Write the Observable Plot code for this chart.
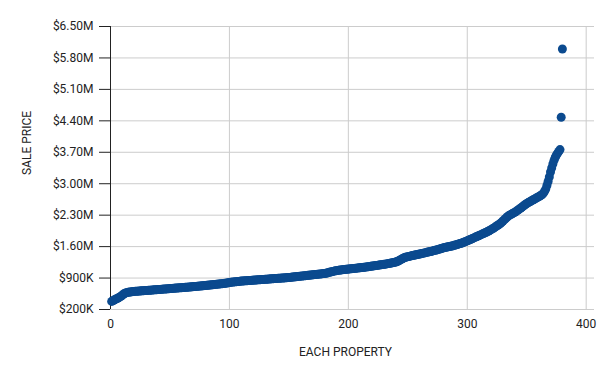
<!DOCTYPE html>
<html><head><meta charset="utf-8">
<script src="https://cdn.jsdelivr.net/npm/d3@7"></script>
<script src="https://cdn.jsdelivr.net/npm/@observablehq/plot@0.6"></script>
<style>html,body{margin:0;padding:0;background:#fff} svg{display:block}</style>
</head><body><div id="chart"></div>
<script>
// Sorted sale prices (thousands of dollars), one per property
const salePricesK = [
  380, 395, 410, 425, 440, 450, 465, 480, 500, 520,
  545, 560, 570, 578, 584, 588, 592, 596, 599, 602,
  604, 607, 609, 611, 613, 615, 617, 619, 621, 623,
  625, 627, 629, 631, 633, 636, 638, 640, 642, 644,
  646, 648, 651, 653, 655, 657, 659, 661, 663, 665,
  667, 669, 671, 673, 676, 678, 680, 682, 684, 686,
  688, 691, 693, 695, 698, 700, 702, 705, 707, 710,
  712, 714, 717, 719, 722, 724, 727, 729, 732, 735,
  738, 740, 743, 746, 749, 752, 755, 758, 761, 764,
  767, 770, 773, 776, 779, 782, 786, 790, 795, 800,
  804, 808, 811, 814, 817, 820, 823, 826, 829, 832,
  834, 836, 838, 840, 842, 844, 846, 848, 850, 852,
  854, 856, 858, 860, 862, 864, 866, 868, 870, 872,
  874, 876, 878, 880, 882, 884, 886, 888, 890, 892,
  894, 896, 898, 900, 902, 904, 906, 908, 910, 912,
  915, 918, 921, 924, 927, 930, 933, 936, 939, 942,
  945, 948, 951, 954, 957, 960, 963, 966, 969, 972,
  975, 978, 981, 984, 987, 990, 993, 996, 999, 1002,
  1005, 1012, 1020, 1028, 1035, 1042, 1048, 1054, 1060, 1065,
  1070, 1074, 1078, 1082, 1085, 1088, 1091, 1094, 1097, 1100,
  1103, 1106, 1109, 1112, 1115, 1118, 1121, 1124, 1127, 1130,
  1133, 1136, 1140, 1143, 1147, 1150, 1154, 1158, 1162, 1166,
  1170, 1174, 1178, 1182, 1186, 1190, 1194, 1198, 1202, 1206,
  1210, 1215, 1220, 1225, 1230, 1235, 1240, 1245, 1250, 1258,
  1268, 1280, 1295, 1310, 1325, 1340, 1352, 1362, 1370, 1376,
  1382, 1388, 1394, 1400, 1406, 1412, 1418, 1424, 1430, 1436,
  1442, 1448, 1454, 1460, 1466, 1472, 1478, 1484, 1490, 1497,
  1504, 1511, 1518, 1525, 1532, 1540, 1548, 1556, 1564, 1572,
  1578, 1584, 1590, 1596, 1602, 1608, 1614, 1620, 1628, 1636,
  1644, 1652, 1660, 1668, 1676, 1686, 1696, 1706, 1716, 1728,
  1740, 1752, 1764, 1776, 1788, 1800, 1812, 1824, 1836, 1848,
  1860, 1872, 1884, 1896, 1908, 1920, 1934, 1948, 1962, 1978,
  1994, 2010, 2028, 2046, 2064, 2082, 2100, 2120, 2145, 2170,
  2195, 2220, 2245, 2270, 2290, 2305, 2320, 2335, 2350, 2365,
  2380, 2400, 2420, 2440, 2460, 2480, 2500, 2520, 2540, 2560,
  2575, 2590, 2605, 2620, 2635, 2650, 2665, 2680, 2695, 2710,
  2725, 2740, 2760, 2790, 2830, 2880, 2960, 3050, 3150, 3260,
  3350, 3440, 3520, 3590, 3640, 3680, 3720, 3760, 4480, 6000
];
const yTicks = [200000, 900000, 1600000, 2300000, 3000000, 3700000, 4400000, 5100000, 5800000, 6500000];
const xTicks = [0, 100, 200, 300, 400];
const xTitle = "EACH PROPERTY";
const yTitle = "SALE PRICE";

const data = salePricesK.map((v, i) => ({index: i + 1, price: v * 1000}));
const fmt = v => v < 1e6 ? `$${v / 1000}K` : `$${(v / 1e6).toFixed(2)}M`;

const chart = Plot.plot({
  width: 612, height: 379,
  marginLeft: 110, marginRight: 18, marginTop: 26, marginBottom: 70,
  style: {fontFamily: "Roboto, sans-serif", fontSize: "12px", color: "#222", background: "#fff"},
  x: {domain: [0, 407]},
  y: {domain: [200000, 6500000]},
  marks: [
    Plot.gridY(yTicks, {stroke: "#cccccc", strokeOpacity: 1}),
    Plot.gridX(xTicks.filter(d => d > 0), {stroke: "#cccccc", strokeOpacity: 1}),
    Plot.axisY(yTicks, {tickSize: 11, tickPadding: 6, tickFormat: fmt, label: null}),
    Plot.axisX(xTicks, {tickSize: 0, tickPadding: 10, label: null}),
    Plot.ruleX([0], {stroke: "#222"}),
    Plot.dot(data, {x: "index", y: "price", r: 4.5, fill: "#0b4a8f", stroke: null}),
    Plot.text([xTitle], {frameAnchor: "bottom", dy: 46, dx: -7, text: d => d, fill: "#222", fontSize: 12}),
    Plot.text([yTitle], {frameAnchor: "left", dx: -83, dy: 7, rotate: -90, text: d => d, fill: "#222", fontSize: 12})
  ]
});
document.getElementById("chart").appendChild(chart);
</script>
</body></html>
